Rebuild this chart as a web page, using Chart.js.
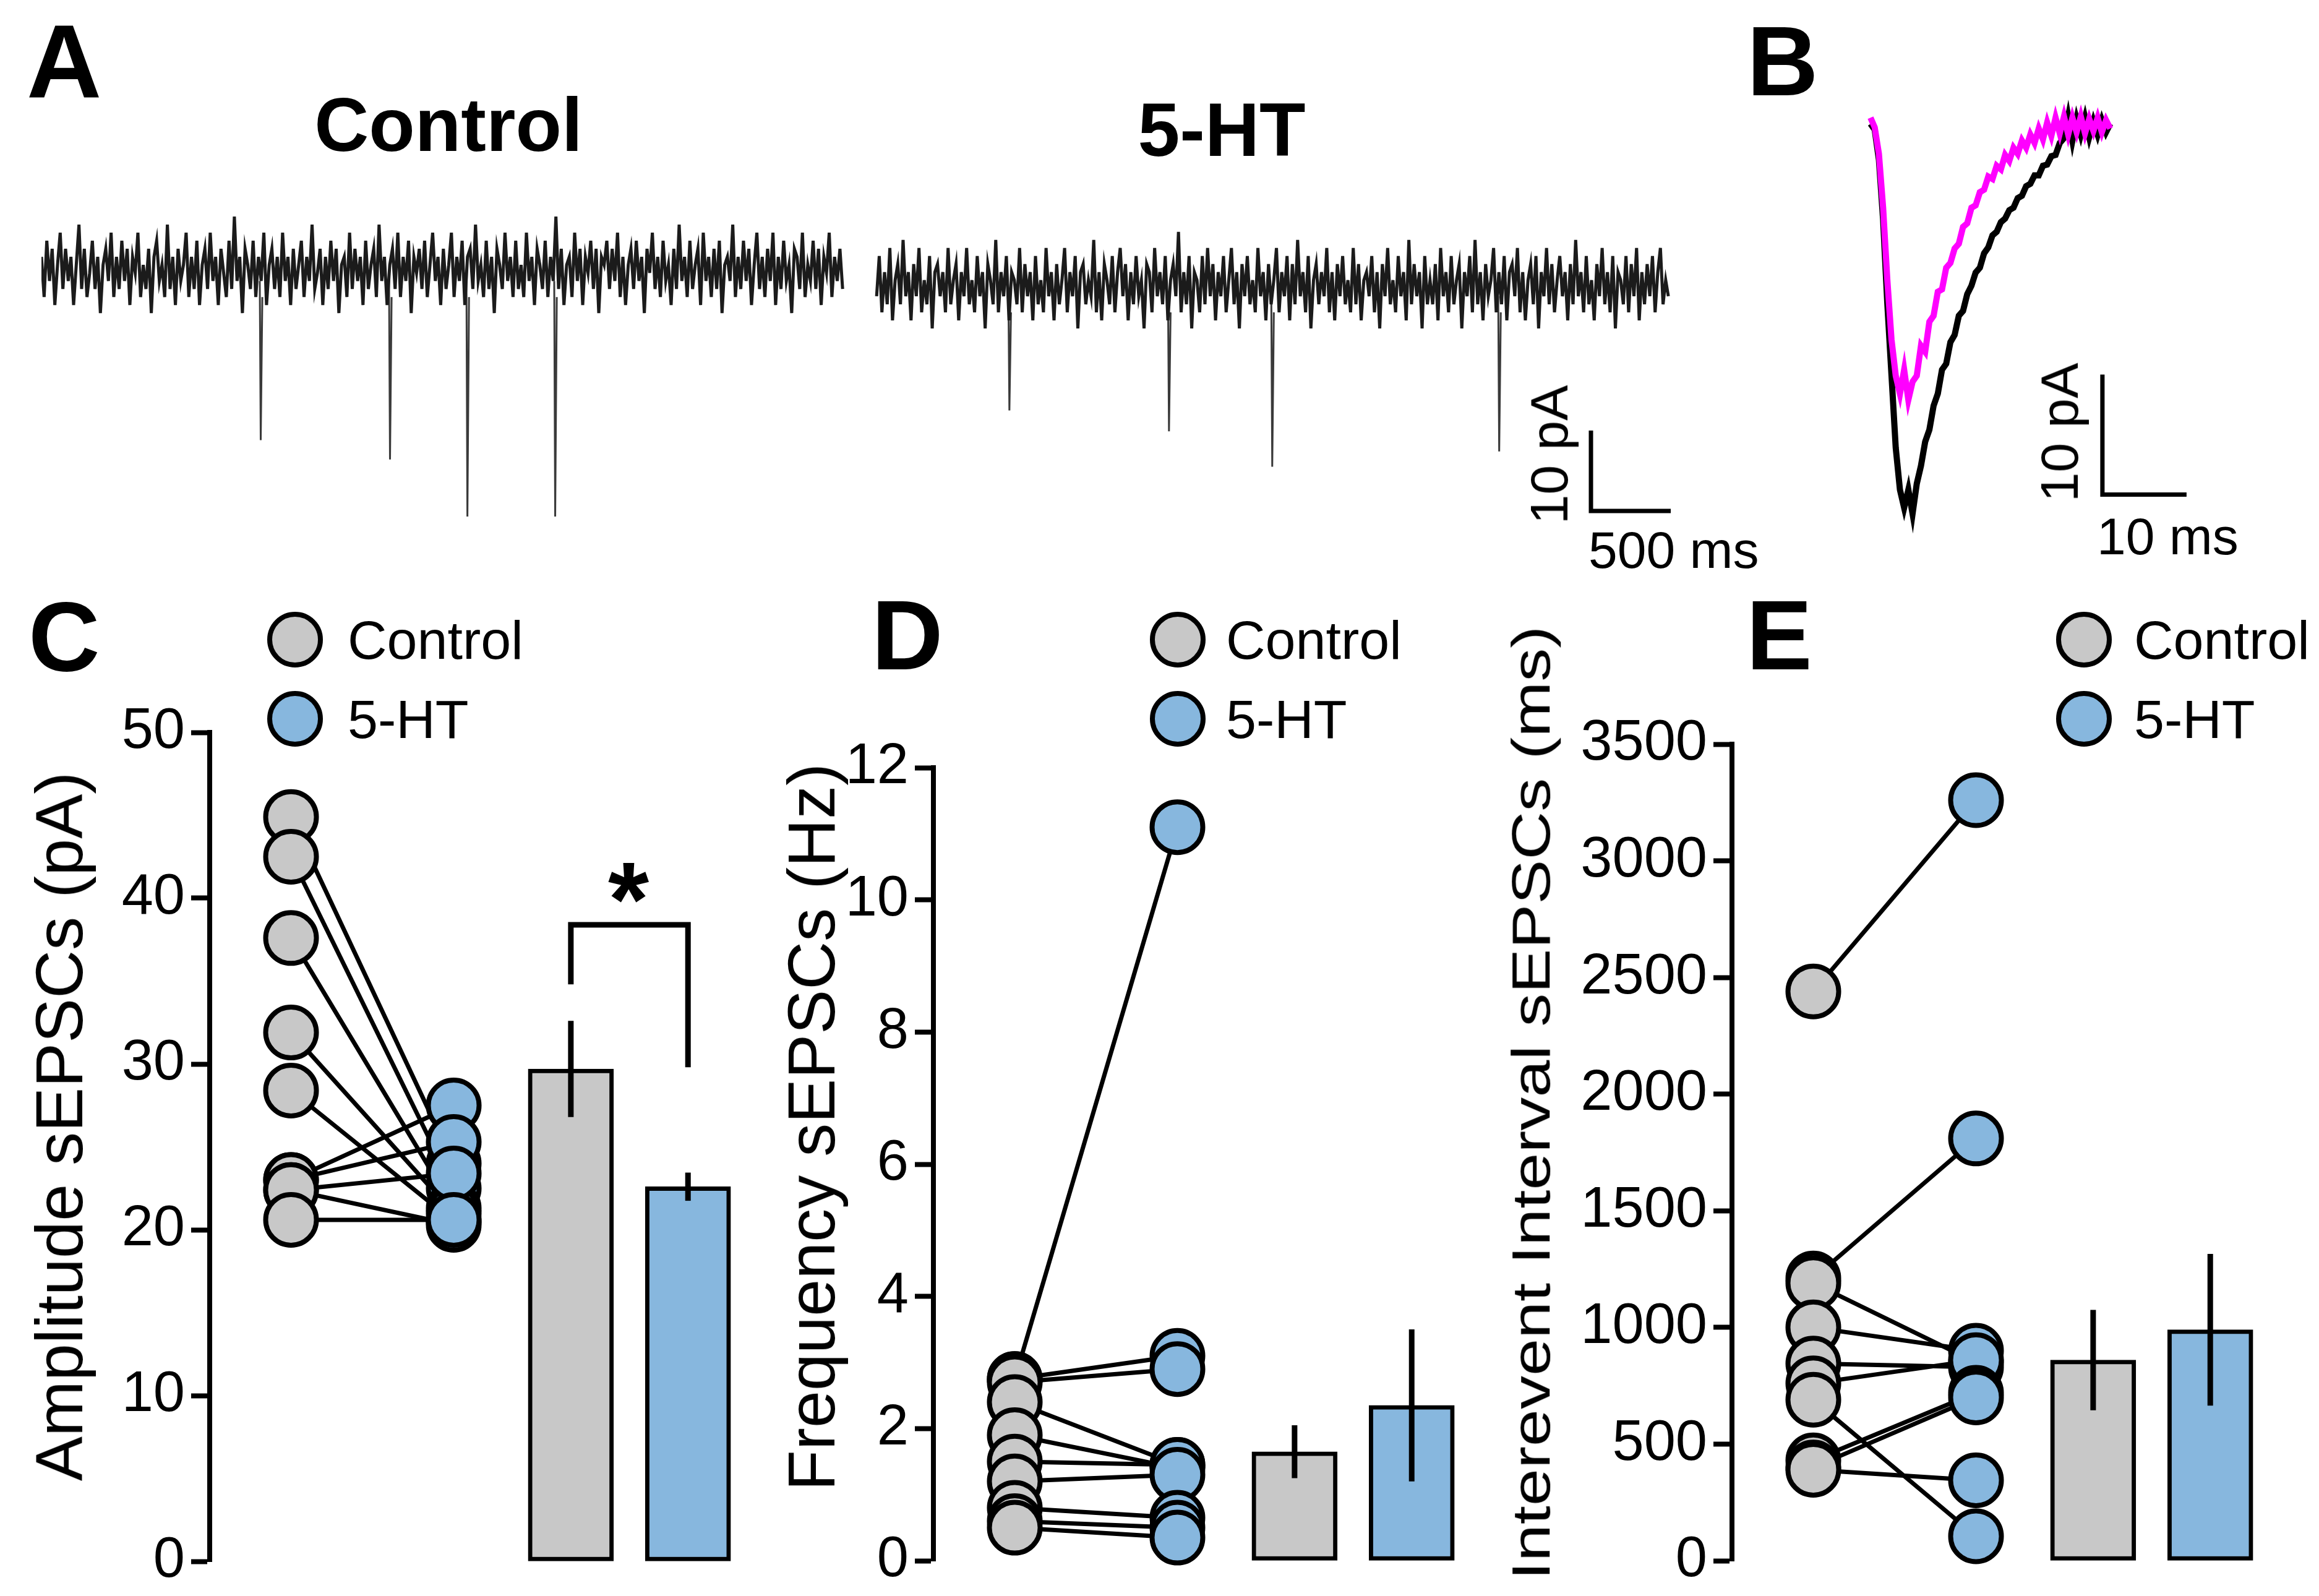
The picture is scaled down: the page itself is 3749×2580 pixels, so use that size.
<!DOCTYPE html>
<html>
<head>
<meta charset="utf-8">
<script src="https://cdn.jsdelivr.net/npm/chart.js@4.4.1/dist/chart.umd.min.js"></script>
<style>
  html, body { margin: 0; padding: 0; background: #fff; overflow: hidden; }
  #fig { position: relative; width: 3749px; height: 2580px; font-family: 'Liberation Sans', Arial, sans-serif; color: #000; }
  #fig canvas { position: absolute; }
  .t { position: absolute; line-height: 1; white-space: nowrap; z-index: 2; }
  .b { font-weight: bold; }
  .rot { position: absolute; line-height: 1; white-space: nowrap; transform: translate(-50%, -50%) rotate(-90deg); z-index: 2; }
  .dot { position: absolute; width: 74px; height: 74px; border: 8px solid #000; border-radius: 50%; z-index: 2; }
</style>
</head>
<body>
<div id="fig">
  <canvas id="chartA" width="2650" height="650" style="left:67px;top:300px"></canvas>
  <canvas id="chartB" width="620" height="800" style="left:3000px;top:150px"></canvas>
  <canvas id="chartC" width="1219" height="1500" style="left:0px;top:1104px"></canvas>
  <canvas id="chartD" width="1149" height="1442" style="left:1240px;top:1161px"></canvas>
  <canvas id="chartE" width="1260" height="1480" style="left:2420px;top:1123px"></canvas>

  <!-- panel letters and titles -->
  <div class="t b" style="font-size:168px;left:43px;top:16px">A</div>
  <div class="t b" style="font-size:122px;left:425px;width:600px;text-align:center;top:141px">Control</div>
  <div class="t b" style="font-size:122px;left:1675px;width:600px;text-align:center;top:149px">5-HT</div>
  <div class="t b" style="font-size:160px;left:2824px;top:19px">B</div>
  <div class="t b" style="font-size:160px;left:46px;top:949px">C</div>
  <div class="t b" style="font-size:160px;left:1409px;top:947px">D</div>
  <div class="t b" style="font-size:160px;left:2823px;top:947px">E</div>

  <!-- scale bar labels -->
  <div class="rot" style="font-size:86px;left:2504px;top:735px">10 pA</div>
  <div class="t" style="font-size:84px;left:2568px;top:847px">500 ms</div>
  <div class="rot" style="font-size:86px;left:3329px;top:699px">10 pA</div>
  <div class="t" style="font-size:84px;left:3390px;top:825px">10 ms</div>

  <!-- y axis titles -->
  <div class="rot" style="font-size:108px;left:96px;top:1821px">Amplitude sEPSCs (pA)</div>
  <div class="rot" style="font-size:108px;left:1312px;top:1822px">Frequency sEPSCs (Hz)</div>
  <div class="rot" style="font-size:108px;left:2476px;top:1783px;transform:translate(-50%,-50%) rotate(-90deg) scaleY(0.8)">Interevent Interval sEPSCs (ms)</div>

  <!-- significance star -->
  <div class="t b" style="font-size:170px;left:916px;width:200px;text-align:center;top:1369px">*</div>

  <!-- legends -->
  <div class="dot" style="left:432px;top:989px;background:#c8c8c8"></div>
  <div class="dot" style="left:432px;top:1117px;background:#87b7de"></div>
  <div class="t" style="font-size:88px;left:562px;top:991px">Control</div>
  <div class="t" style="font-size:88px;left:562px;top:1119px">5-HT</div>
  <div class="dot" style="left:1859px;top:989px;background:#c8c8c8"></div>
  <div class="dot" style="left:1859px;top:1117px;background:#87b7de"></div>
  <div class="t" style="font-size:88px;left:1982px;top:991px">Control</div>
  <div class="t" style="font-size:88px;left:1982px;top:1119px">5-HT</div>
  <div class="dot" style="left:3324px;top:989px;background:#c8c8c8"></div>
  <div class="dot" style="left:3324px;top:1117px;background:#87b7de"></div>
  <div class="t" style="font-size:88px;left:3450px;top:991px">Control</div>
  <div class="t" style="font-size:88px;left:3450px;top:1119px">5-HT</div>
</div>

<script>
// ---------- data ----------
// A: example sweeps, pA relative to baseline (about one sample per 17 ms)
const controlNoise = [
  2,-3,4,-1,3,-4,1,5,-2,3,-1,2,-4,1,6,-2,3,-3,0,4,-2,2,-5,1,3,-1,5,-3,2,-2,
  4,-1,3,-4,2,0,5,-3,1,-2,3,-5,2,4,-1,1,-3,6,-2,2,-4,3,-1,1,5,-3,2,-2,4,-4,
  1,3,-2,5,-1,2,-4,3,0,-3,4,-2,7,-1,2,-5,3,1,-2,4,-3,2,-1,5,-4,1,3,-2,2,-3,
  5,-1,2,-4,3,-2,1,4,-3,2,-1,6,-2,0,3,-4,2,-2,4,-1,3,-5,1,2,-3,5,-2,3,-1,2,
  -4,4,-2,1,3,-3,6,-1,2,-4,1,3,-2,5,-3,2,-1,4,-5,2,0,3,-2,4,-3,1,5,-1,2,-4,
  3,-2,1,5,-3,2,-1,4,-4,2,3,-2,6,-1,1,-3,4,-2,2,-5,3,1,-2,5,-1,2,-3,4,-2,1,
  -3,5,-1,2,-4,3,1,-2,4,-3,2,-1,7,-2,3,-4,1,2,-3,5,-1,3,-4,2,0,4,-2,3,-5,2,
  1,4,-2,3,-1,5,-3,2,-4,1,3,-2,4,-1,2,-5,3,0,5,-2,2,-3,4,-1,1,-4,3,-2,6,-1,
  2,-3,4,-2,1,3,-4,5,-1,2,-3,3,-2,4,-5,1,2,-1,6,-3,2,-2,4,-1,3,-4,1,5,-2,2,
  -3,3,-1,5,-4,2,-2,4,-1,1,-5,3,2,-2,5,-3,1,-1,4,-2,3,-4,2,0,5,-3,2,-1,3,-2
];
const htNoise = [
  -1,4,-3,2,-2,5,-4,1,3,-2,6,-1,2,-4,3,-1,5,-3,1,-2,4,-5,2,3,-1,2,-3,5,-2,1,
  3,-4,2,-1,5,-2,1,-3,4,-1,2,-5,3,1,-2,6,-3,2,-1,4,-4,2,1,-2,5,-3,3,-1,2,-4,
  4,-2,1,-3,5,-1,2,-4,3,-2,1,5,-3,2,-1,4,-5,2,3,-2,1,-1,6,-3,2,-4,3,1,-2,4,
  -3,2,5,-1,3,-4,2,-2,4,-1,1,-5,3,2,-3,5,-1,2,-2,4,-4,1,3,-1,7,-3,2,-2,4,-5,
  2,1,-3,4,-2,5,-1,3,-4,2,-1,4,-3,1,5,-2,2,-5,3,-1,4,-2,1,-3,5,-1,2,-4,3,-2,
  1,5,-3,2,-1,4,-4,3,-2,6,-1,2,-3,4,-5,1,3,-2,2,-1,5,-3,2,-4,3,-1,4,-2,1,-3,
  5,-2,3,-4,1,2,-1,4,-3,2,-5,3,-1,5,-2,1,-3,4,-1,2,-4,6,-2,3,-1,2,-5,4,-2,1,
  -2,3,-4,5,-1,2,-3,4,-2,1,3,-5,2,-1,4,-3,6,-2,2,-4,3,-1,1,5,-3,2,-2,4,-4,2,
  3,-1,5,-3,2,-4,1,3,-2,4,-5,2,-1,5,-2,3,-3,1,4,-1,2,-4,3,-2,6,-1,2,-3,4,-2,
  1,-4,3,-1,5,-2,2,-3,4,-5,2,1,-2,4,-3,3,-1,5,-4,2,-2,3,-1,4,-3,2,5,-2,1,-1
];
const controlEventMs = [1368, 2178, 2663, 3213];
const controlEventPA = [20.8, 23.2, 30.3, 30.3];
const htEventMs = [826, 1826, 2473, 3895];
const htEventPA = [15.2, 17.8, 22.2, 20.3];

// B: averaged sEPSC, one value per 0.5 ms
const avgControl = [0,-0.5,-3,-8,-15,-21,-27,-30.5,-32,-30.5,
  -32.5,-30,-28.5,-26.5,-25.5,-23.5,-22.5,-20.5,-20,-18.2,
  -17.6,-16,-15.6,-14.2,-13.5,-12.4,-12,-10.8,-10.3,-9.3,
  -9,-8.2,-7.9,-7.2,-7,-6.2,-6,-5.2,-5,-4.3,
  -4.3,-3.5,-3.4,-2.7,-2.6,-1.6,-1.2,0.6,-1.4,0.4,
  -0.9,0.5,-1.1,0.2,-0.9,0.3,-0.7,0];
const avg5HT = [0.5,-0.3,-2.5,-7,-13,-18,-21,-22.5,-20.5,-23,
  -21.5,-21,-18.5,-19,-16.5,-16,-14,-13.8,-12,-11.6,
  -10.4,-10,-8.6,-8.3,-7,-6.8,-5.7,-5.5,-4.4,-4.6,
  -3.5,-3.8,-2.6,-3.1,-2,-2.5,-1.4,-2,-0.9,-1.6,
  -0.4,-1.3,0.1,-1,0.5,-0.8,0.6,-0.9,0.5,-0.7,
  0.6,-0.8,0.4,-0.6,0.5,-0.7,0.3,-0.4];

// C: amplitude (pA), paired cells
const ampControl = [44.9, 42.5, 37.6, 31.9, 28.4, 23.0, 23.0, 22.4, 22.4, 20.6];
const amp5HT     = [24.0, 22.5, 21.3, 21.0, 20.5, 27.5, 25.3, 23.4, 20.3, 20.6];
const ampMean = [29.7, 22.6];
const ampSem  = [2.9, 0.85];

// D: frequency (Hz)
const freqControl = [2.75, 2.75, 2.7, 2.4, 1.9, 1.5, 1.2, 0.8, 0.6, 0.5];
const freq5HT     = [11.1, 3.1, 2.9, 1.45, 1.4, 1.45, 1.3, 0.65, 0.5, 0.35];
const freqMean = [1.65, 2.35];
const freqSem  = [0.4, 1.15];

// E: interevent interval (ms)
const iviControl = [2440, 1210, 1190, 1000, 845, 760, 690, 430, 400, 390];
const ivi5HT     = [3260, 1810, 850, 900, 830, 860, 105, 720, 700, 345];
const iviMean = [860, 990];
const iviSem  = [215, 325];

// ---------- layout / style ----------
const GREY = '#c8c8c8';
const BLUE = '#87b7de';
const slot = { ctl: 0.5, ht: 1.5, barCtl: 2.22, barHt: 2.94 };
const slotPx = 263;

Chart.defaults.font.family = "'Liberation Sans', Arial, sans-serif";
Chart.defaults.color = '#000';

const baseOpts = {
  responsive: false,
  animation: false,
  devicePixelRatio: 1,
  events: [],
  plugins: { legend: { display: false }, tooltip: { enabled: false } }
};

// noise part of a sweep
function sweep(noise, durMs, startMs, offsetPA) {
  const dt = durMs / (noise.length - 1);
  return noise.map((v, i) => ({ x: startMs + i * dt, y: offsetPA + v }));
}
// the sharp inward events, each one a separate stroke
function events(startMs, offsetPA, evMs, evPA) {
  const pts = [];
  evMs.forEach((t, i) => {
    pts.push({ x: startMs + t, y: offsetPA - 1 });
    pts.push({ x: startMs + t + 6, y: offsetPA - evPA[i] });
    pts.push({ x: startMs + t + 16, y: offsetPA - 3 });
    pts.push({ x: startMs + t + 17, y: null });
  });
  return pts;
}

function lineDs(points, color, width, order) {
  return { type: 'line', data: points, borderColor: color, borderWidth: width,
    pointRadius: 0, order: order, clip: false, borderJoinStyle: 'miter', borderCapStyle: 'butt' };
}

// ---------- A ----------
new Chart(document.getElementById('chartA'), {
  type: 'scatter',
  data: { datasets: [
    lineDs(sweep(controlNoise, 5020, 0, -0.4), '#1b1b1b', 5, 1),
    lineDs(sweep(htNoise, 4961, 5233, -2.3), '#1b1b1b', 5, 1),
    lineDs(events(0, -0.4, controlEventMs, controlEventPA), '#3a3a3a', 3, 1),
    lineDs(events(5233, -2.3, htEventMs, htEventPA), '#3a3a3a', 3, 1),
    lineDs([{ x: 9709, y: -20 }, { x: 9709, y: -30 }, { x: 10209, y: -30 }], '#000', 7, 0)
  ]},
  options: Object.assign({}, baseOpts, {
    layout: { padding: 0, autoPadding: false },
    scales: {
      x: { type: 'linear', min: 0, max: 10271, display: false },
      y: { type: 'linear', min: -39.54, max: 10.46, display: false }
    }
  })
});

// ---------- B ----------
new Chart(document.getElementById('chartB'), {
  type: 'scatter',
  data: { datasets: [
    lineDs(avg5HT.map((v, i) => ({ x: i * 0.5, y: v })), '#ff00ff', 10, 0),
    lineDs(avgControl.map((v, i) => ({ x: i * 0.5, y: v })), '#000', 10, 1),
    lineDs([{ x: 27.57, y: -20.9 }, { x: 27.57, y: -30.9 }, { x: 37.57, y: -30.9 }], '#000', 7, 2)
  ]},
  options: Object.assign({}, baseOpts, {
    layout: { padding: 0, autoPadding: false },
    scales: {
      x: { type: 'linear', min: -1.76, max: 43.83, display: false },
      y: { type: 'linear', min: -38.66, max: 2.58, display: false }
    }
  })
});

// ---------- C, D, E ----------
function pairedPanel(id, axisWidth, plotWidth, ctl, ht, mean, sem, yMax, yStep, extra) {
  const ds = [];
  ctl.forEach((v, i) => ds.push(lineDs([{ x: slot.ctl, y: v }, { x: slot.ht, y: ht[i] }], '#000', 7, 2)));
  [ctl, ht].forEach((vals, k) => ds.push({
    type: 'scatter',
    data: vals.map(v => ({ x: k ? slot.ht : slot.ctl, y: v })),
    pointRadius: 41, pointBorderWidth: 8,
    pointBackgroundColor: k ? BLUE : GREY, pointBorderColor: '#000',
    order: 0, clip: false
  }));
  ds.push({
    type: 'bar',
    data: [{ x: slot.barCtl, y: mean[0] }, { x: slot.barHt, y: mean[1] }],
    backgroundColor: [GREY, BLUE], borderColor: '#000', borderWidth: 7,
    borderSkipped: false, barThickness: 138, order: 3, clip: false
  });
  [slot.barCtl, slot.barHt].forEach((x, i) => ds.push(
    lineDs([{ x: x, y: mean[i] - sem[i] }, { x: x, y: mean[i] + sem[i] }], '#000', 9, 1)));
  (extra || []).forEach(d => ds.push(d));

  return new Chart(document.getElementById(id), {
    type: 'scatter',
    data: { datasets: ds },
    options: Object.assign({}, baseOpts, {
      layout: { padding: { top: 80, bottom: 80, left: 0, right: 0 }, autoPadding: false },
      scales: {
        x: { type: 'linear', min: 0, max: plotWidth / slotPx, offset: false, display: false },
        y: {
          type: 'linear', min: 0, max: yMax,
          afterFit: s => { s.width = axisWidth; },
          border: { display: true, color: '#000', width: 8 },
          grid: { drawOnChartArea: false, drawTicks: true, tickLength: 30, tickWidth: 8, tickColor: '#000' },
          ticks: { stepSize: yStep, autoSkip: false, color: '#000', font: { size: 92 }, padding: 10,
                   callback: v => String(v) }
        }
      }
    })
  });
}

pairedPanel('chartC', 339, 880, ampControl, amp5HT, ampMean, ampSem, 50, 10, [
  lineDs([{ x: slot.barCtl, y: 34.8 }, { x: slot.barCtl, y: 38.4 },
          { x: slot.barHt, y: 38.4 }, { x: slot.barHt, y: 29.8 }], '#000', 9, 1)
]);
pairedPanel('chartD', 269, 880, freqControl, freq5HT, freqMean, freqSem, 12, 2);
pairedPanel('chartE', 380, 880, iviControl, ivi5HT, iviMean, iviSem, 3500, 500);
</script>
</body>
</html>
